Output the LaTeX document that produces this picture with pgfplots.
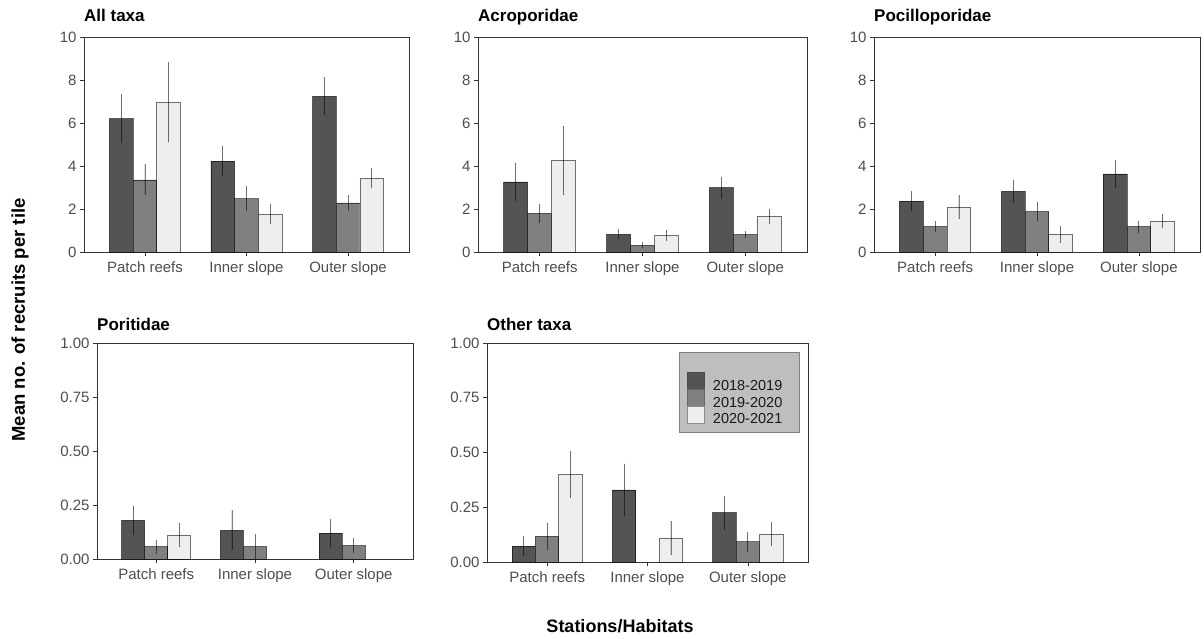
\documentclass[border=0pt]{standalone}
\usepackage{pgfplots}
\pgfplotsset{compat=1.18}
\usepackage{pgfplotstable}
\usepackage{fontspec}
\setmainfont{Liberation Sans}

\definecolor{cA}{HTML}{545454}
\definecolor{cB}{HTML}{808080}
\definecolor{cC}{HTML}{EEEEEE}
\definecolor{tickc}{HTML}{4D4D4D}
\definecolor{legbg}{HTML}{BEBEBE}

% columns: x, 2018-2019 (a, ea), 2019-2020 (b, eb), 2020-2021 (c, ec)
\pgfplotstableread{
x a ea b eb c ec
1 6.20 1.15 3.35 0.72 6.96 1.86
2 4.23 0.69 2.47 0.58 1.75 0.47
3 7.24 0.88 2.28 0.35 3.43 0.46
}\tAll
\pgfplotstableread{
x a ea b eb c ec
1 3.26 0.87 1.80 0.45 4.26 1.61
2 0.82 0.23 0.31 0.14 0.76 0.25
3 2.99 0.52 0.81 0.16 1.66 0.34
}\tAcro
\pgfplotstableread{
x a ea b eb c ec
1 2.37 0.48 1.18 0.27 2.09 0.57
2 2.82 0.52 1.88 0.45 0.82 0.39
3 3.63 0.66 1.18 0.28 1.43 0.33
}\tPoci
\pgfplotstableread{
x a ea b eb c ec
1 0.179 0.068 0.057 0.033 0.111 0.057
2 0.133 0.092 0.057 0.058 nan nan
3 0.120 0.066 0.062 0.036 nan nan
}\tPori
\pgfplotstableread{
x a ea b eb c ec
1 0.073 0.044 0.117 0.060 0.400 0.107
2 0.329 0.120 nan nan 0.110 0.077
3 0.225 0.077 0.092 0.045 0.128 0.053
}\tOther

\pgfplotsset{
  panel/.style={
    scale only axis, xmin=0.4, xmax=3.6, ymin=0,
    xtick={1,2,3}, xticklabels={Patch reefs, Inner slope, Outer slope},
    tick align=outside, xtick pos=bottom, ytick pos=left,
    major tick length=4pt,
    tick style={color=black!80, line width=0.6pt},
    axis line style={color=black!80, line width=0.9pt},
    ticklabel style={font=\fontsize{15}{18}\selectfont, text=tickc},
    xticklabel style={yshift=-2pt},
    /pgf/number format/assume math mode=true,
    title style={at={(0,1)}, anchor=base west, yshift=9pt, inner sep=0pt,
                 font=\fontsize{17}{20}\selectfont\bfseries},
  },
  toprow/.style={ymax=10, ytick={0,2,4,6,8,10}, height=215pt},
  botrow/.style={ymax=1, ytick={0,0.25,0.5,0.75,1},
    yticklabel style={/pgf/number format/.cd, fixed, fixed zerofill, precision=2}},
  barcommon/.style={ybar, bar width=0.23333, bar shift=0,
    forget plot, draw=black, draw opacity=0.55, line width=0.8pt,
    error bars/.cd, y dir=both, y explicit, error mark=none,
    error bar style={black, draw opacity=0.5, line width=0.8pt}},
}

\newcommand{\threebars}[1]{%
  \addplot[fill=cA, barcommon] table[x expr=\thisrow{x}-0.23333, y=a, y error=ea]{#1};
  \addplot[fill=cB, barcommon] table[x=x, y=b, y error=eb]{#1};
  \addplot[fill=cC, barcommon] table[x expr=\thisrow{x}+0.23333, y=c, y error=ec]{#1};
}

\begin{document}
\begin{tikzpicture}
\useasboundingbox (0pt,0pt) rectangle (1204pt,-639pt);

\begin{axis}[panel, toprow, width=325pt, at={(84pt,-252pt)}, anchor=south west, title={All taxa}]
  \threebars{\tAll}
\end{axis}

\begin{axis}[panel, toprow, width=329pt, at={(478pt,-252pt)}, anchor=south west, title={Acroporidae}]
  \threebars{\tAcro}
\end{axis}

\begin{axis}[panel, toprow, width=326pt, at={(874pt,-252pt)}, anchor=south west, title={Pocilloporidae}]
  \threebars{\tPoci}
\end{axis}

\begin{axis}[panel, botrow, width=316pt, height=216pt, at={(97pt,-559pt)}, anchor=south west, title={Poritidae},
  title style={yshift=-2pt}]
  \threebars{\tPori}
\end{axis}

\begin{axis}[panel, botrow, width=321pt, height=219pt, at={(487pt,-562pt)}, anchor=south west, title={Other taxa},
  title style={yshift=-2pt},
  legend style={at={(0.623,0.868)}, anchor=north west, draw=none, fill=none,
    inner sep=0pt, row sep=-3pt,
    nodes={inner sep=0pt, font=\fontsize{14.5}{17}\selectfont, text=black!90},
    /tikz/every odd column/.append style={column sep=8pt}},
  legend cell align=left]
  \draw[fill=legbg, draw=black!50, line width=0.8pt] (rel axis cs:0.598,0.594) rectangle (rel axis cs:0.972,0.959);
  \threebars{\tOther}
  \addlegendimage{legend image code/.code={\draw[fill=cA, draw=black!70, line width=0.8pt] (0pt,-3.5pt) rectangle (17pt,13.5pt);}}
  \addlegendentry{2018-2019}
  \addlegendimage{legend image code/.code={\draw[fill=cB, draw=black!60, line width=0.8pt] (0pt,-3.5pt) rectangle (17pt,13.5pt);}}
  \addlegendentry{2019-2020}
  \addlegendimage{legend image code/.code={\draw[fill=cC, draw=black!45, line width=0.8pt] (0pt,-3.5pt) rectangle (17pt,13.5pt);}}
  \addlegendentry{2020-2021}
\end{axis}

\node[rotate=90, font=\fontsize{18.5}{21}\selectfont\bfseries] at (20pt,-320pt) {Mean no. of recruits per tile};
\node[anchor=base, inner sep=0pt, font=\fontsize{18}{21}\selectfont\bfseries] at (620pt,-632pt) {Stations/Habitats};
\end{tikzpicture}
\end{document}
